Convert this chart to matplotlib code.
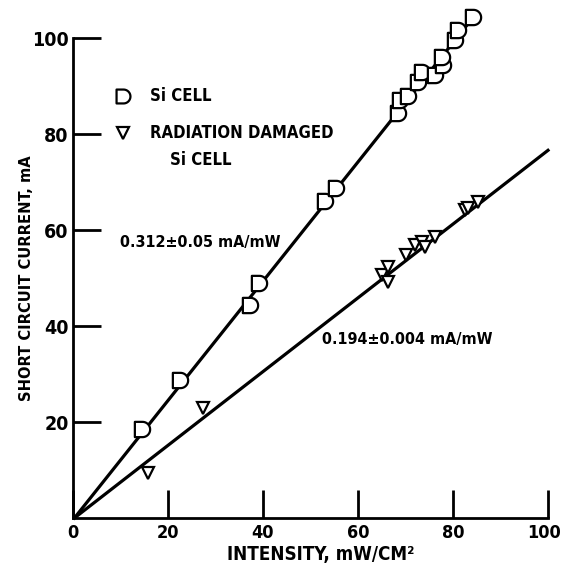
import numpy as np
import matplotlib
matplotlib.use("Agg")
import matplotlib.pyplot as plt
from matplotlib.path import Path
from matplotlib import font_manager
from matplotlib.font_manager import FontProperties
from matplotlib.transforms import ScaledTranslation

# ---- data ----
si_x = [14.5, 22.5, 37.3, 39.2, 53.0, 55.4, 68.4, 68.8, 70.5, 72.6, 73.5, 76.2, 77.9, 77.7, 80.4, 81.0, 84.2]
si_y = [18.5, 28.8, 44.4, 49.0, 66.0, 68.7, 84.4, 87.0, 88.0, 90.8, 92.9, 92.3, 94.4, 96.0, 99.6, 101.7, 104.4]
dmg_x = [15.8, 27.4, 65.0, 66.3, 66.3, 70.0, 72.0, 73.5, 74.0, 76.2, 82.5, 83.2, 85.3]
dmg_y = [9.4, 22.9, 50.6, 49.2, 52.3, 54.8, 56.9, 57.5, 56.5, 58.5, 64.2, 64.6, 65.8]
si_fit_x = [0.3, 84.0]
si_fit_y = [0.0, 104.0]
dmg_fit_x = [0.3, 100.0]
dmg_fit_y = [0.0, 76.6]
x_ticks = [0, 20, 40, 60, 80, 100]
y_ticks = [20, 40, 60, 80, 100]
si_label = "Si CELL"
dmg_label_1 = "RADIATION DAMAGED"
dmg_label_2 = "Si CELL"
si_slope_text = "0.312\u00b10.05 mA/mW"
dmg_slope_text = "0.194\u00b10.004 mA/mW"
x_label = "INTENSITY, mW/CM\u00b2"
y_label = "SHORT CIRCUIT CURRENT, mA"

# ---- font: prefer a condensed/narrow bold face ----
def pick_font():
    narrow = []
    for f in font_manager.fontManager.ttflist:
        is_narrow = ("Narrow" in f.name or "Condensed" in f.name
                     or str(f.stretch) in ("condensed", "semi-condensed", "extra-condensed"))
        if is_narrow and f.style == "normal":
            w = f.weight if isinstance(f.weight, int) else (700 if "bold" in str(f.weight) else 400)
            narrow.append((abs(w - 700), f.fname))
    if narrow:
        narrow.sort()
        return narrow[0][1], True
    return None, False

fpath, found = pick_font()
def fp(size):
    if found:
        return FontProperties(fname=fpath, size=size)
    return FontProperties(family="DejaVu Sans", weight="bold", size=size * 0.9)

# D-shaped marker
ang = np.linspace(np.pi / 2, -np.pi / 2, 30)
verts = [(-0.5, -0.5), (-0.5, 0.5), (0.0, 0.5)] + list(zip(0.5 * np.cos(ang), 0.5 * np.sin(ang))) + [(-0.5, -0.5)]
codes = [Path.MOVETO] + [Path.LINETO] * (len(verts) - 2) + [Path.CLOSEPOLY]
d_marker = Path(verts, codes)

fig = plt.figure(figsize=(5.62, 5.69), dpi=100)
ax = fig.add_axes([73 / 562, 1 - 518 / 569, 475 / 562, 480 / 569])
ax.set_xlim(0, 100)
ax.set_ylim(0, 100)
for s in ["top", "right"]:
    ax.spines[s].set_visible(False)
for s in ["left", "bottom"]:
    ax.spines[s].set_linewidth(2.0)

ax.plot(si_fit_x, si_fit_y, color="black", lw=2.3, zorder=2, clip_on=False)
ax.plot(dmg_fit_x, dmg_fit_y, color="black", lw=2.3, zorder=2, clip_on=False)
ax.plot(si_x, si_y, ls="none", marker=d_marker, ms=11, mfc="white", mec="black", mew=1.6, zorder=3, clip_on=False)
ax.plot(dmg_x, dmg_y, ls="none", marker="v", ms=9, mfc="white", mec="black", mew=1.6, zorder=3, clip_on=False)

# legend drawn manually
ax.plot([10.5], [88.0], ls="none", marker=d_marker, ms=10, mfc="white", mec="black", mew=1.6)
ax.plot([10.5], [80.3], ls="none", marker="v", ms=9, mfc="white", mec="black", mew=1.6)
ax.text(16.2, 88.0, si_label, fontproperties=fp(12), va="center", ha="left")
ax.text(16.2, 80.3, dmg_label_1, fontproperties=fp(12), va="center", ha="left")
ax.text(20.4, 74.6, dmg_label_2, fontproperties=fp(12), va="center", ha="left")

ax.text(9.9, 57.5, si_slope_text, fontproperties=fp(11.5), va="center", ha="left")
ax.text(52.4, 37.1, dmg_slope_text, fontproperties=fp(11.5), va="center", ha="left")

ax.set_xticks(x_ticks)
ax.set_yticks(y_ticks)
ax.set_xticklabels([str(t) for t in x_ticks], fontproperties=fp(13))
ax.set_yticklabels([str(t) for t in y_ticks], fontproperties=fp(14))
ax.tick_params(axis="x", direction="in", length=20, width=2, pad=4)
ax.tick_params(axis="y", direction="in", length=20, width=2, pad=3)

# nudge the last x tick label so it stays inside the figure
last = ax.xaxis.get_major_ticks()[-1].label1
last.set_transform(last.get_transform() + ScaledTranslation(-3 / 72, 0, fig.dpi_scale_trans))

ax.set_xlabel(x_label, fontproperties=fp(13.5))
ax.xaxis.set_label_coords((321 - 73) / 475, -0.056)
ax.set_ylabel(y_label, fontproperties=fp(11.8))
ax.yaxis.set_label_coords(-0.082, 0.5)

fig.savefig("out.png", dpi=100)
